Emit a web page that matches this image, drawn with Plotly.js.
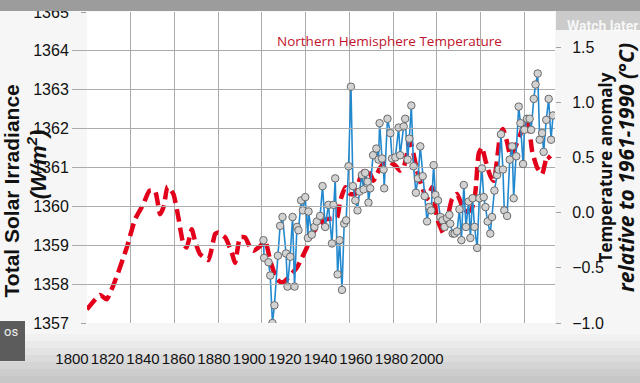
<!DOCTYPE html>
<html><head><meta charset="utf-8">
<script src="https://cdn.plot.ly/plotly-3.0.1.min.js"></script>
<style>html,body{margin:0;padding:0;background:#f6f6f6;}#chart{width:640px;height:383px;}</style>
</head><body><div id="chart"></div>
<script>
// ---- data ----
const tickYears = [1800,1820,1840,1860,1880,1900,1920,1940,1960,1980,2000];

const tempYears = [1880.7,1881.0,1883.0,1883.8,1884.8,1885.7,1887.3,1888.3,1889.4,1891.0,
1891.7,1892.9,1894.0,1894.9,1896.0,1896.7,1897.9,1898.7,1899.8,1901.0,
1901.3,1902.8,1904.0,1905.1,1906.6,1907.7,1908.9,1910.4,1912.0,1912.7,
1913.5,1914.6,1915.5,1916.6,1917.6,1918.5,1919.6,1920.7,1921.6,1922.7,
1923.7,1924.6,1925.7,1926.5,1927.2,1928.3,1928.7,1929.5,1930.8,1932.3,
1933.3,1933.8,1934.9,1935.6,1935.9,1937.4,1938.7,1939.5,1941.0,1942.5,
1943.2,1944.8,1945.5,1946.6,1947.4,1948.3,1949.3,1950.4,1951.3,1952.4,
1953.5,1954.4,1955.5,1956.5,1957.4,1958.5,1959.3,1960.5,1961.6,1962.6,
1963.5,1964.6,1965.7,1966.1,1967.2,1968.1,1969.2,1970.3,1971.2,1972.3,
1973.3,1974.5,1975.3,1976.3,1977.2,1978.4,1979.4,1980.6,1981.4,1982.2,
1983.2,1984.4,1985.2,1986.3,1987.5,1988.2,1989.3,1990.2,1990.8,1992.1,
1993.3,1994.4,1995.1,1996.3,1997.4,1998.2,1999.4,2000.0,2001.2,2002.4,
2003.1,2004.3,2005.1,2006.1,2007.0,2008.1,2008.8,2010.0,2011.1,2012.2,
2013.1];

const tempAnomaly = [-0.25,-0.41,-0.45,-0.57,-1.00,-0.84,-0.39,-0.12,-0.04,-0.37,
-0.67,-0.40,-0.04,-0.67,-0.13,-0.16,0.11,0.02,0.14,-0.23,
0.01,-0.20,-0.13,-0.08,-0.03,0.24,-0.13,0.07,-0.28,0.07,
0.31,-0.56,-0.25,-0.70,-0.10,-0.07,0.42,1.14,0.24,0.11,
0.02,0.19,0.34,0.21,0.36,0.28,0.09,0.22,0.52,0.58,
0.48,0.81,0.49,0.39,0.22,0.85,0.72,0.49,0.50,0.77,
0.52,0.78,0.85,0.48,0.67,0.97,0.42,0.18,0.31,0.60,
0.33,0.15,-0.08,0.05,0.02,0.43,0.16,0.11,-0.04,-0.07,
-0.13,-0.05,-0.02,-0.10,-0.19,-0.19,-0.17,0.03,-0.25,0.25,
-0.13,0.10,-0.23,0.13,-0.13,-0.32,0.13,0.40,0.14,0.05,
-0.08,-0.19,-0.04,0.20,0.34,0.39,0.71,0.39,0.02,-0.03,
0.48,0.60,0.13,0.51,0.96,0.81,0.44,0.75,0.85,0.85,
0.75,1.03,1.16,1.26,0.66,0.72,0.55,0.84,1.03,0.66,
0.88];

const solarYears = [1800,1806,1809,1812.8,1818.2,1822,1825.8,1828.5,1831.1,1833.4,
1835.2,1836.8,1839.5,1841.8,1844.1,1845.6,1847.9,1849.4,1851.7,1855.5,
1858.6,1860.1,1863.2,1866.2,1867.7,1870,1872.3,1874.6,1876.1,1879.2,
1881.5,1883.8,1886.8,1889.1,1891.4,1896,1898.3,1900.5,1902.1,1905.1,
1907.4,1909.7,1914.3,1915.8,1918.1,1920.4,1922.7,1924.9,1927.2,1929.5,
1931,1932.6,1934.1,1936.4,1938.7,1941,1943.2,1944.8,1946.3,1947.8,
1949.3,1950.9,1953.2,1955.5,1957.8,1960,1961.6,1963.1,1966.9,1969.2,
1971.5,1974,1976,1977.6,1979.1,1980.6,1982.2,1984.4,1986,1989,
1990.2,1992.1,1993.6,1996,1998.2,2000.5,2002,2003.5,2005.8,2008.1,
2010.4,2011.9];

const solarTSI = [1357.35,1357.72,1357.61,1358.08,1358.94,1359.67,1360.06,1360.40,1360.40,1359.80,
1360.02,1360.51,1360.32,1359.71,1359.03,1358.94,1359.41,1359.11,1358.77,1358.62,
1359.29,1359.33,1359.20,1358.81,1358.55,1359.20,1359.20,1358.94,1358.86,1358.98,
1359.11,1358.60,1358.13,1358.04,1358.13,1358.43,1358.68,1358.94,1359.20,1359.46,
1359.59,1359.67,1359.71,1360.14,1360.49,1360.32,1360.32,1360.74,1360.96,1360.83,
1360.66,1360.83,1361.00,1361.13,1361.13,1361.05,1360.92,1361.00,1361.35,1361.69,
1361.35,1360.92,1360.49,1360.19,1360.49,1359.71,1359.46,1359.29,1360.19,1360.32,
1360.02,1359.85,1359.95,1360.37,1361.35,1361.52,1361.18,1360.79,1360.66,1361.86,
1361.99,1361.65,1361.30,1361.55,1361.86,1362.21,1362.08,1361.43,1361.00,1360.83,
1361.30,1361.22];

// ---- layout helpers ----
const W = 640, H = 383, M = {l: 40, r: 40, t: 12, b: 60};
const pw = W - M.l - M.r, ph = H - M.t - M.b;
const fx = px => (px - M.l) / pw;
const fy = py => (H - M.b - py) / ph;
const tickFam = '"Liberation Sans", Arial, sans-serif';
const gridCol = '#ababab';
const NB = n => '\u00a0'.repeat(n);

const traces = [
  {
    x: solarYears, y: solarTSI, xaxis: 'x', yaxis: 'y', type: 'scatter', mode: 'lines',
    line: {color: '#e3001b', width: 4.5, dash: '13px,6px', shape: 'spline', smoothing: 0.5},
    hoverinfo: 'skip', showlegend: false
  },
  {
    x: tempYears, y: tempAnomaly, xaxis: 'x', yaxis: 'y2', type: 'scatter', mode: 'lines+markers',
    line: {color: '#2389cf', width: 1.6},
    marker: {size: 7.5, color: '#d2d2d2', line: {color: '#6a6a6a', width: 1}},
    hoverinfo: 'skip', showlegend: false
  },
  // carrier for the separate year-label axis (draws nothing)
  {
    x: [tickYears[0], tickYears[tickYears.length - 1]], y: [null, null], xaxis: 'x2', yaxis: 'y',
    type: 'scatter', mode: 'lines', hoverinfo: 'skip', showlegend: false
  }
];

// background bands (video frame gradient)
const shapes = [
  {type: 'rect', xref: 'x domain', yref: 'y domain', layer: 'below', line: {width: 0},
   x0: 0, x1: 1, y0: 0, y1: 1, fillcolor: '#ffffff'}
];
const bandCols = ['#f1f1f1','#eaeaea','#e3e3e3','#dbdbdb','#d4d4d4','#cdcdcd','#c7c7c7'];
bandCols.forEach((c, i) => {
  shapes.push({type: 'rect', xref: 'paper', yref: 'paper', layer: 'below', line: {width: 0},
    x0: fx(0), x1: fx(W), y0: fy(334 + (i + 1) * 7 + (i === bandCols.length - 1 ? 10 : 0)), y1: fy(334 + i * 7), fillcolor: c});
});
shapes.push({type: 'rect', xref: 'paper', yref: 'paper', layer: 'above', line: {width: 0},
  x0: fx(0), x1: fx(W), y0: fy(11), y1: fy(0), fillcolor: '#9c9c9c'});
shapes.push({type: 'rect', xref: 'paper', yref: 'paper', layer: 'below', line: {width: 0},
  x0: fx(556), x1: fx(W), y0: fy(30), y1: fy(0), fillcolor: '#cbcbcb'});
shapes.push({type: 'rect', xref: 'paper', yref: 'paper', layer: 'above', line: {width: 0},
  x0: fx(0), x1: fx(25), y0: fy(361), y1: fy(321), fillcolor: '#5c5c5c'});

const annotations = [
  {text: 'Northern Hemisphere Temperature', xref: 'paper', yref: 'paper', x: fx(389), y: fy(30),
   showarrow: false, font: {family: '"Open Sans", sans-serif', size: 13.5, color: '#c0142b'}},
  {text: 'Watch later', xref: 'paper', yref: 'paper', x: fx(565), y: fy(16), xanchor: 'left',
   showarrow: false, font: {family: 'Roboto, sans-serif', size: 14, color: 'rgba(255,255,255,0.85)', weight: 'bold'}},
  {text: 'os', xref: 'paper', yref: 'paper', x: fx(2), y: fy(341), xanchor: 'left',
   showarrow: false, font: {family: 'Roboto, sans-serif', size: 13, color: '#eeeeee'}}
];

const layout = {
  width: W, height: H, margin: M,
  paper_bgcolor: '#f6f6f6', plot_bgcolor: 'rgba(0,0,0,0)',
  showlegend: false,
  xaxis: {
    domain: [fx(87), fx(555)], range: [1800, 2014], tick0: 1800, dtick: 20,
    showgrid: true, gridcolor: gridCol, gridwidth: 1, zeroline: false, showline: false,
    showticklabels: false, ticks: '', fixedrange: true
  },
  xaxis2: {
    domain: [fx(72), fx(427)], anchor: 'y', range: [1800, 2000], tickmode: 'array', tickvals: tickYears,
    showgrid: false, zeroline: false, showline: false, ticks: '', ticklabelstandoff: 25,
    tickfont: {family: tickFam, size: 15, color: '#111'}, fixedrange: true
  },
  yaxis: {
    anchor: 'x', range: [1357, 1365], dtick: 1, tick0: 1357,
    showgrid: true, gridcolor: gridCol, gridwidth: 1, zeroline: false, showline: false,
    ticks: 'outside', ticklen: 5, tickcolor: '#a0a0a0', ticklabelstandoff: 9,
    tickfont: {family: tickFam, size: 16, color: '#111'},
    title: {text: '<b>Total Solar Irradiance' + NB(8) + '</b><br><span style="font-size:22px"><b><i>' + NB(1) + '(W/m<sup>2</sup>)</i></b></span>', standoff: 0,
      font: {family: '"Liberation Sans", Arial, sans-serif', size: 21, color: '#111'}},
    fixedrange: true
  },
  yaxis2: {
    overlaying: 'y', side: 'right', anchor: 'x', range: [-1.0, 1.817],
    tickmode: 'array', tickvals: [-1, -0.5, 0, 0.5, 1, 1.5], tickformat: '.1f',
    showgrid: false, zeroline: false, showline: false,
    ticks: 'outside', ticklen: 5, tickcolor: '#a0a0a0', ticklabelstandoff: 8,
    tickfont: {family: tickFam, size: 16, color: '#111'},
    title: {text: '<b>Temperature anomaly</b><br><span style="font-size:21px"><b><i>relative to 1961-1990 (°C)</i></b></span>', standoff: 8,
      font: {family: '"Open Sans", sans-serif', size: 17, color: '#111'}},
    fixedrange: true
  },
  shapes: shapes,
  annotations: annotations
};

Plotly.newPlot('chart', traces, layout, {staticPlot: true, displayModeBar: false});
</script>
</body></html>
